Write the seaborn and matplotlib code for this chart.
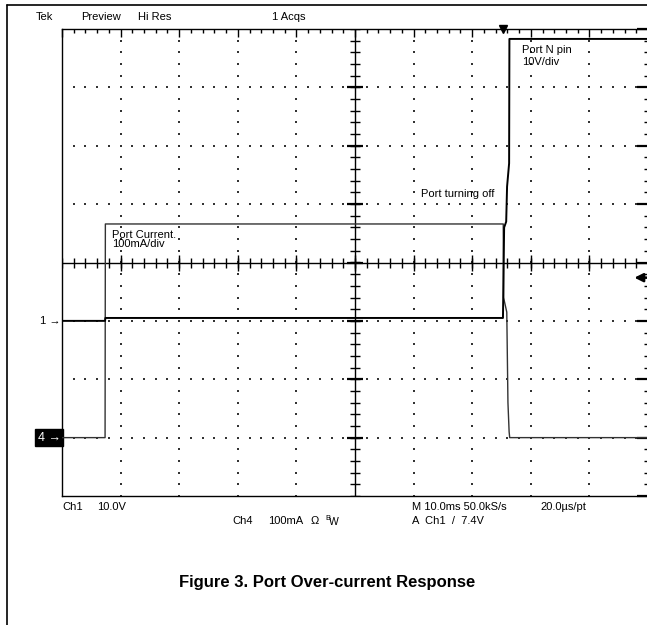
import numpy as np
import pandas as pd
import matplotlib
matplotlib.use("Agg")
import matplotlib.pyplot as plt
import seaborn as sns
from matplotlib.lines import Line2D
from matplotlib.transforms import blended_transform_factory

# ---- scope readings (time in ms, 10 ms/div) ----
ch1_time_ms = [0, 7.35, 7.4, 75.25, 75.45, 75.8, 75.95, 76.3, 76.35, 100]
ch1_volts = [0, 0, 0.5, 0.5, 16, 17, 23, 27, 48.3, 48.3]
ch4_time_ms = [0, 7.35, 7.4, 75.3, 75.35, 75.9, 76.1, 76.3, 76.4, 100]
ch4_ma = [0, 0, 366, 366, 240, 215, 60, 10, 0, 0]

ch1_scale = 10.0    # V/div
ch4_scale = 100.0   # mA/div
ch1_ground = -1     # div, marker "1"
ch4_ground = -3     # div, marker "4"
trigger_level_v = 7.4
trigger_time_ms = 75.2

header = ["Tek", "Preview", "Hi Res", "1 Acqs"]

df1 = pd.DataFrame({"t": ch1_time_ms, "div": np.array(ch1_volts) / ch1_scale + ch1_ground})
df4 = pd.DataFrame({"t": ch4_time_ms, "div": np.array(ch4_ma) / ch4_scale + ch4_ground})

sns.set_style("white")
plt.rcParams["font.family"] = ["Liberation Sans", "DejaVu Sans"]
plt.rcParams["text.color"] = "black"

W, H = 647, 625
fig = plt.figure(figsize=(W / 100, H / 100), dpi=100)
L, R, T, B = 62, 648, 29, 496
ax = fig.add_axes([L / W, 1 - B / H, (R - L) / W, (B - T) / H])
ax.set_xlim(0, 100)
ax.set_ylim(-4, 4)

def px(x, y):
    return x / W, 1 - y / H

# graticule dots
dot_y = np.arange(-4, 4.01, 0.2)
dot_x = np.arange(0, 100.01, 2)
for gx in [10, 20, 30, 40, 60, 70, 80, 90]:
    ax.scatter(np.full(dot_y.size, gx), dot_y, s=1.6, marker="s", color="#333333", linewidths=0, zorder=1)
for gy in [-3, -2, -1, 1, 2, 3]:
    ax.scatter(dot_x, np.full(dot_x.size, gy), s=1.6, marker="s", color="#333333", linewidths=0, zorder=1)

# centre axes with ticks
ax.axhline(0, color="black", lw=1.0, zorder=2)
ax.axvline(50, color="black", lw=1.0, zorder=2)
minor_x = np.arange(0, 100.01, 2)
ax.plot(minor_x, np.zeros_like(minor_x), ls="none", marker="|", ms=6.5, mew=1.0, color="black", zorder=2)
ax.plot(np.arange(10, 91, 10), np.zeros(9), ls="none", marker="|", ms=11.5, mew=1.0, color="black", zorder=2)
minor_y = np.arange(-4, 4.01, 0.2)
ax.plot(np.full(minor_y.size, 50), minor_y, ls="none", marker="_", ms=7, mew=1.0, color="black", zorder=2)
ax.plot(np.full(7, 50), np.arange(-3, 4), ls="none", marker="_", ms=11.5, mew=1.6, color="black", zorder=2)

# border ticks
ax.set_xticks(np.arange(0, 101, 10))
ax.set_xticks(np.arange(0, 101, 2), minor=True)
ax.set_yticks(np.arange(-4, 5, 1))
ax.set_yticks(np.arange(-4, 4.01, 0.2), minor=True)
ax.tick_params(axis="both", which="both", direction="in", top=True, right=True,
               labelleft=False, labelbottom=False, colors="black")
ax.tick_params(axis="x", which="major", length=6, width=1.0)
ax.tick_params(axis="x", which="minor", length=3, width=1.0)
ax.tick_params(axis="y", which="major", length=8, width=1.6)
ax.tick_params(axis="y", which="minor", length=3, width=1.0)
for s in ax.spines.values():
    s.set_color("black")
    s.set_linewidth(1.0)

# traces
sns.lineplot(data=df4, x="t", y="div", sort=False, estimator=None, color="#333333", lw=1.0, ax=ax, zorder=4)
sns.lineplot(data=df1, x="t", y="div", sort=False, estimator=None, color="black", lw=1.4, ax=ax, zorder=5)
ax.set_xlabel("")
ax.set_ylabel("")

fs = 8
ax.text(78.5, 3.64, "Port N pin", fontsize=fs, va="center")
ax.text(78.5, 3.43, "10V/div", fontsize=fs, va="center")
ax.text(8.55, 0.47, "Port Current.", fontsize=fs, va="center")
ax.text(8.55, 0.32, "100mA/div", fontsize=fs, va="center")
ax.text(61.2, 1.17, "Port turning off", fontsize=fs, va="center")

# channel ground markers
bt = blended_transform_factory(ax.transAxes, ax.transData)
ax.text(-0.002, ch1_ground, "1 \u2192", transform=bt, ha="right", va="center", fontsize=fs, clip_on=False)
ax.text(-0.002, ch4_ground, "4 \u2192", transform=bt, ha="right", va="center", fontsize=fs + 1,
        color="white", clip_on=False,
        bbox=dict(boxstyle="square,pad=0.2", fc="black", ec="black"))

# trigger markers
ax.plot([trigger_time_ms], [4], marker="v", ms=5.5, color="black", clip_on=False, zorder=6)
ax.annotate("", xy=(97.2, trigger_level_v / ch1_scale + ch1_ground),
            xytext=(100.5, trigger_level_v / ch1_scale + ch1_ground),
            arrowprops=dict(arrowstyle="-|>,head_length=0.5,head_width=0.25", lw=1.8, color="black"),
            annotation_clip=False)

# header
for label, x in zip(header, [36, 81, 138, 272]):
    fig.text(*px(x, 17), label, fontsize=fs, va="center")

# footer readouts
fig.text(*px(62, 507), "Ch1", fontsize=fs, va="center")
fig.text(*px(97, 507), "10.0V", fontsize=fs, va="center")
fig.text(*px(412, 507), "M 10.0ms 50.0kS/s", fontsize=fs, va="center")
fig.text(*px(540, 507), "20.0\u00b5s/pt", fontsize=fs, va="center")
fig.text(*px(232, 521), "Ch4", fontsize=fs, va="center")
fig.text(*px(268, 521), "100mA", fontsize=fs, va="center")
fig.text(*px(311, 521), "\u03a9", fontsize=fs, va="center")
fig.text(*px(325, 518), "B", fontsize=5.5, va="center")
fig.text(*px(329, 522), "W", fontsize=fs - 0.5, va="center")
fig.text(*px(412, 521), "A  Ch1  /  7.4V", fontsize=fs, va="center")

fig.text(*px(327, 583), "Figure 3. Port Over-current Response", fontsize=12, fontweight="bold",
         ha="center", va="center", color="black")

# outer document frame
fig.add_artist(Line2D([7 / W, 7 / W], [0, 1 - 5 / H], color="black", lw=1.2, transform=fig.transFigure))
fig.add_artist(Line2D([7 / W, 1], [1 - 5 / H, 1 - 5 / H], color="black", lw=1.2, transform=fig.transFigure))

fig.savefig("out.png", dpi=100, facecolor="white")
